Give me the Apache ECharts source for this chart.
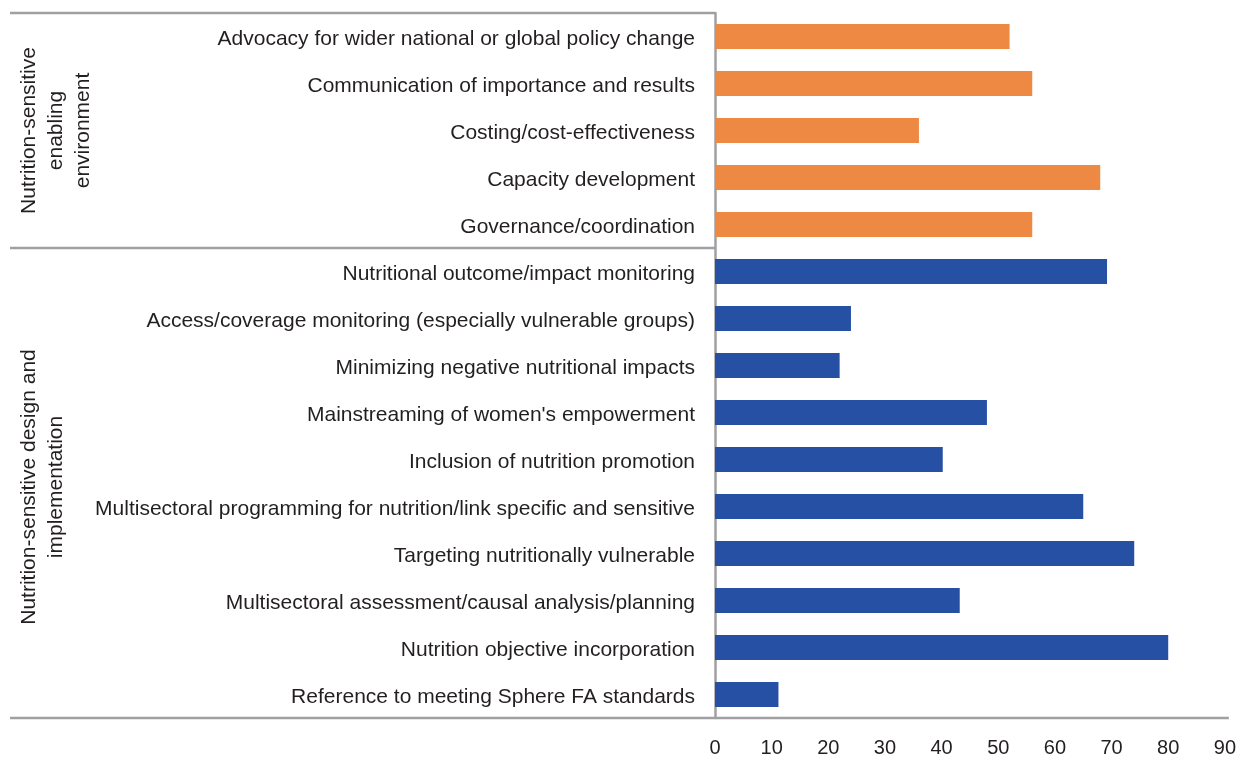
<!DOCTYPE html>
<html>
<head>
<meta charset="utf-8">
<script src="https://cdn.jsdelivr.net/npm/echarts@6/dist/echarts.min.js"></script>
<style>
  html, body { margin: 0; padding: 0; background: #fff; }
  #chart { width: 1239px; height: 761px; }
</style>
</head>
<body>
<div id="chart"></div>
<script>
// categories, top to bottom
const categories = [
  'Advocacy for wider national or global policy change',
  'Communication of importance and results',
  'Costing/cost-effectiveness',
  'Capacity development',
  'Governance/coordination',
  'Nutritional outcome/impact monitoring',
  'Access/coverage monitoring (especially vulnerable groups)',
  'Minimizing negative nutritional impacts',
  "Mainstreaming of women's empowerment",
  'Inclusion of nutrition promotion',
  'Multisectoral programming for nutrition/link specific and sensitive',
  'Targeting nutritionally vulnerable',
  'Multisectoral assessment/causal analysis/planning',
  'Nutrition objective incorporation',
  'Reference to meeting Sphere FA standards'
]
const enablingValues = [52, 56, 36, 68, 56, '-', '-', '-', '-', '-', '-', '-', '-', '-', '-']
const designValues   = ['-', '-', '-', '-', '-', 69.2, 24, 22, 48, 40.2, 65, 74, 43.2, 80, 11.2]
const groups = [
  { name: 'Nutrition-sensitive\nenabling\nenvironment', from: 0, to: 4 },
  { name: 'Nutrition-sensitive design and\nimplementation', from: 5, to: 14 }
]
const xTicks = [0, 90, 10]

const font = '"Liberation Sans", sans-serif'
const lineColor = '#a0a0a4'
const textColor = '#231f20'

const chart = echarts.init(document.getElementById('chart'), null, { renderer: 'canvas' })

const option = {
  animation: false,
  textStyle: { fontFamily: font },
  grid: { left: 715, right: 11, top: 13, bottom: 43, containLabel: false },
  xAxis: {
    type: 'value',
    min: xTicks[0],
    max: xTicks[1],
    interval: xTicks[2],
    axisLine: { show: false },
    axisTick: { show: false },
    splitLine: { show: false },
    axisLabel: { color: textColor, fontSize: 20, margin: 20, fontFamily: font }
  },
  yAxis: {
    type: 'category',
    data: categories,
    inverse: true,
    axisLine: { show: true, lineStyle: { color: lineColor, width: 2.5 } },
    axisTick: { show: false },
    axisLabel: {
      color: textColor, fontSize: 21, margin: 20, fontFamily: font,
      // nudge the labels a little lower, like the original
      formatter: v => '{t|' + v + '}',
      rich: { t: { fontSize: 21, fontFamily: font, color: textColor, padding: [6, 0, 0, 0] } }
    }
  },
  series: [{
    name: 'enabling',
    type: 'bar',
    stack: 'a',
    barWidth: 25,
    itemStyle: { color: '#ee8944' },
    data: enablingValues
  }, {
    name: 'design',
    type: 'bar',
    stack: 'a',
    barWidth: 25,
    itemStyle: { color: '#2650a4' },
    data: designValues
  }]
}
chart.setOption(option)

//** separator lines + group labels, placed from the axis scale */
const yPix = i => chart.convertToPixel({ yAxisIndex: 0 }, i)
const band = yPix(1) - yPix(0)
const x0 = chart.convertToPixel({ xAxisIndex: 0 }, 0)
const x90 = chart.convertToPixel({ xAxisIndex: 0 }, 90)
const edge = i => yPix(i) - band / 2

const graphic = []
const hline = (y, x1, x2) => graphic.push({
  type: 'line', silent: true,
  shape: { x1, y1: y, x2, y2: y },
  style: { stroke: lineColor, lineWidth: 2.5 }
})
hline(edge(0), 10, x0)
hline(edge(5), 10, x0)
hline(edge(15), 10, x90 + 4)

groups.forEach(g => {
  const cy = (edge(g.from) + edge(g.to + 1)) / 2
  graphic.push({
    type: 'text', silent: true,
    x: g.from === 0 ? 56 : 43,
    y: g.from === 0 ? cy : cy + 4,
    rotation: Math.PI / 2,
    style: {
      text: g.name,
      font: '21px ' + font,
      fill: textColor,
      align: 'center',
      verticalAlign: 'middle',
      lineHeight: 27
    }
  })
})
chart.setOption({ graphic })
</script>
</body>
</html>
